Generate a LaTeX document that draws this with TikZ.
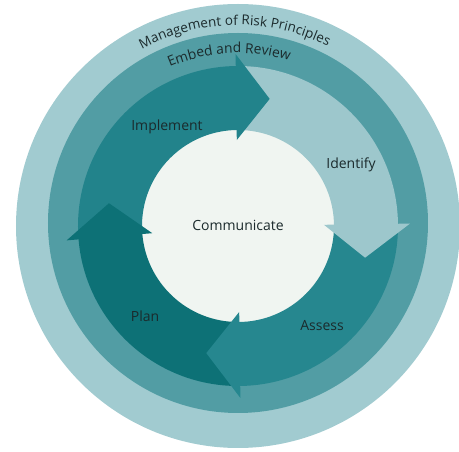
\documentclass[tikz,border=0pt]{standalone}
\usepackage{fontspec}
\setmainfont{Open Sans}
\usetikzlibrary{decorations.text}

\definecolor{outerc}{RGB}{161,203,208}
\definecolor{embedc}{RGB}{82,157,164}
\definecolor{implc}{RGB}{34,131,139}
\definecolor{identc}{RGB}{157,199,204}
\definecolor{assessc}{RGB}{38,135,143}
\definecolor{planc}{RGB}{13,113,118}
\definecolor{commc}{RGB}{240,245,241}
\definecolor{labelc}{RGB}{27,42,44}

\tikzset{
  steplabel/.style={font=\fontsize{14}{16}\selectfont, text=labelc, inner sep=0pt},
  ringlabel/.style 2 args={decorate, decoration={text along path, text align=center,
      text={|\fontsize{#1}{16}\selectfont\color{labelc}|#2}}}
}

\begin{document}
\begin{tikzpicture}[x=1pt,y=1pt]
      \pgfmathsetmacro{\ri}{96}   % inner edge of the cycle
      \pgfmathsetmacro{\ro}{160}  % outer edge of the cycle
      \pgfmathsetmacro{\hi}{86}   % head, inner corner
      \pgfmathsetmacro{\ho}{172}  % head, outer corner
      \pgfmathsetmacro{\rt}{131}  % head tip
      \useasboundingbox (-238,-226) rectangle (221,226);
      % Rings
      \fill[outerc] (0,0) circle[radius=222];
      \fill[embedc] (0,3) circle[radius=190];
      \fill[commc] (0,0) circle[radius=97];
      \path[ringlabel={13.5}{Management of Risk Principles}] (151:201) arc[start angle=151, end angle=31, radius=201];
      \path[ringlabel={13.8}{Embed and Review}] (153:173) arc[start angle=153, end angle=33, radius=173];
      % Arrow bodies
      \fill[implc] (184:\ro) arc[start angle=184, end angle=90, radius=\ro] -- (90:\ri) arc[start angle=90, end angle=184, radius=\ri] -- cycle;
      \fill[identc] (90:\ro) arc[start angle=90, end angle=0, radius=\ro] -- (0:\ri) arc[start angle=0, end angle=90, radius=\ri] -- cycle;
      \fill[assessc] (0:\ro) arc[start angle=0, end angle=-90, radius=\ro] -- (-90:\ri) arc[start angle=-90, end angle=0, radius=\ri] -- cycle;
      \fill[planc] (-90:\ro) arc[start angle=-90, end angle=-176, radius=\ro] -- (-176:\ri) arc[start angle=-176, end angle=-90, radius=\ri] -- cycle;
      % Arrow heads (base set a little back into the body, so no seam shows)
      \fill[implc] (90.8:\ho) -- (76:\rt) -- (90.8:\hi) -- cycle;
      \fill[identc] (0.8:\ho) -- (-14:\rt) -- (0.8:\hi) -- cycle;
      \fill[assessc] (-89.2:\ho) -- (-104:\rt) -- (-89.2:\hi) -- cycle;
      \fill[planc] (-175.2:\ho) -- (-190:\rt) -- (-175.2:\hi) -- cycle;
      % Labels
      \node[steplabel] (comm) at (0,1) {Communicate};
      \node[steplabel] (impl) at (-71,99) {Implement};
      \node[steplabel] (ident) at (113,61) {Identify};
      \node[steplabel] (assess) at (84,-100) {Assess};
      \node[steplabel] (plan) at (-93,-90) {Plan};
\end{tikzpicture}
\end{document}
